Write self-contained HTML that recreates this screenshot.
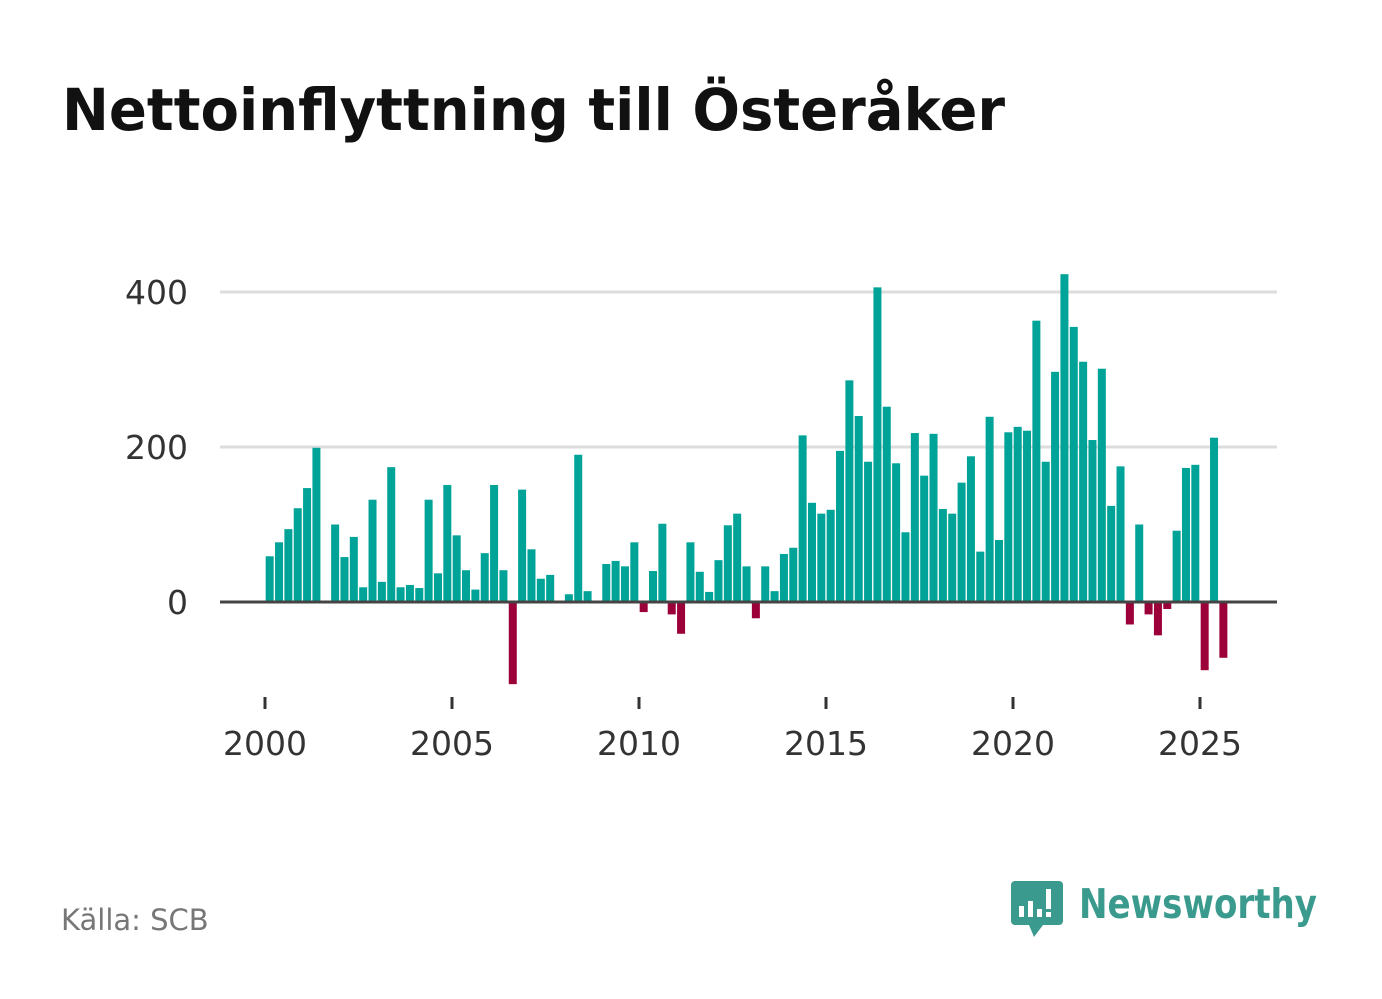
<!DOCTYPE html>
<html><head><meta charset="utf-8"><style>
html,body{margin:0;padding:0;background:#fff;}
svg{display:block;font-family:"DejaVu Sans","Liberation Sans",sans-serif;}
</style></head><body>
<svg id="chart" width="1382" height="999" viewBox="0 0 1382 999" xmlns="http://www.w3.org/2000/svg">
<text x="62" y="130" font-size="58" font-weight="bold" fill="#111" textLength="943" lengthAdjust="spacingAndGlyphs">Nettoinflyttning till Österåker</text>
<g id="grid"></g>
<g id="bars"></g>
<g id="axes"></g>
<text x="61" y="930" font-size="29" fill="#777">Källa: SCB</text>
<g>
<path d="M1015 881 h44 a4 4 0 0 1 4 4 v36 a4 4 0 0 1 -4 4 h-16 l-9 12 l-5 -12 h-14 a4 4 0 0 1 -4 -4 v-36 a4 4 0 0 1 4 -4z" fill="#3a9a8d"/>
<rect x="1019" y="906" width="5" height="11" fill="#fff"/>
<rect x="1028" y="901" width="5" height="16" fill="#fff"/>
<rect x="1037" y="909" width="5" height="8" fill="#fff"/>
<rect x="1046" y="889" width="5" height="20" fill="#fff"/>
<rect x="1046" y="912" width="5" height="5" fill="#fff"/>
<text x="1079" y="918" font-size="41" font-weight="bold" fill="#3a9a8d" textLength="238" lengthAdjust="spacingAndGlyphs">Newsworthy</text>
</g>
</svg>
<script>
const years = [2000,2005,2010,2015,2020,2025];
const yTicks = [0,200,400];
const startYear = 2000;
const positives = [
59,77,94,121, 147,199,0,100, 58,84,19,132, 26,174,19,22,
18,132,37,151, 86,41,16,63, 151,41,0,145, 68,30,35,0,
10,190,14,0, 49,53,46,77, 0,40,101,0, 0,77,39,13,
54,99,114,46, 0,46,14,62, 70,215,128,114, 119,195,286,240,
181,406,252,179, 90,218,163,217, 120,114,154,188, 65,239,80,219,
226,221,363,181, 297,423,355,310, 209,301,124,175, 0,100,0,0,
0,92,173,177, 0,212,0];
const negatives = [
0,0,0,0, 0,0,0,0, 0,0,0,0, 0,0,0,0,
0,0,0,0, 0,0,0,0, 0,0,-106,0, 0,0,0,0,
0,0,0,0, 0,0,0,0, -13,0,0,-16, -41,0,0,0,
0,0,0,0, -21,0,0,0, 0,0,0,0, 0,0,0,0,
0,0,0,0, 0,0,0,0, 0,0,0,0, 0,0,0,0,
0,0,0,0, 0,0,0,0, 0,0,0,0, -29,0,-16,-43,
-9,0,0,0, -88,0,-72];
const NS="http://www.w3.org/2000/svg";
function x(t){return 265+(t-2000)*37.4;}
function y(v){return 602-v*0.775;}
const grid=document.getElementById('grid'),bars=document.getElementById('bars'),axes=document.getElementById('axes');
function mk(tag,attrs,parent){const e=document.createElementNS(NS,tag);for(const k in attrs)e.setAttribute(k,attrs[k]);parent.appendChild(e);return e;}
yTicks.forEach(v=>{
  if(v!==0){const l=mk('line',{x1:220,x2:1277,y1:y(v),y2:y(v),stroke:'#ddd','stroke-width':3},grid);
  
  }
  const t=mk('text',{x:188,y:y(v)+12,'text-anchor':'end','font-size':33,fill:'#333'},axes);
  t.textContent=v;
  
  
});
function drawBar(i,v){
  if(!v)return;
  const cx=x(startYear+(i+0.5)/4);
  const y0=y(0),y1=y(v);
  const r=mk('rect',{x:cx-4,y:Math.min(y0,y1),width:8,height:Math.abs(y1-y0),fill:v>0?'#00a398':'#9b0039'},bars);
  
  
}
positives.forEach((v,i)=>drawBar(i,v));
negatives.forEach((v,i)=>drawBar(i,v));
const z=mk('line',{x1:220,x2:1277,y1:y(0),y2:y(0),stroke:'#444','stroke-width':3},axes);


years.forEach(yr=>{
  const tk=mk('line',{x1:x(yr),x2:x(yr),y1:697,y2:709,stroke:'#333','stroke-width':3},axes);
  
  
  const t=mk('text',{x:x(yr),y:755,'text-anchor':'middle','font-size':33,fill:'#333'},axes);
  t.textContent=yr;
  
  
});
</script>
</body></html>
